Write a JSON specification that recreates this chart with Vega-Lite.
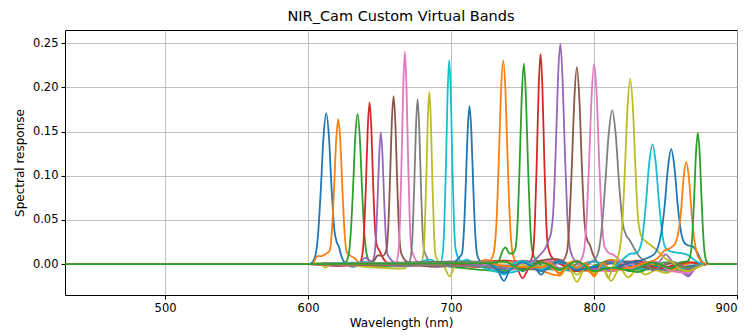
{
"$schema": "https://vega.github.io/schema/vega-lite/v6.json",
"width": 672, "height": 265,
"autosize": {"type": "none"},
"padding": {"left": 65, "top": 30, "right": 15, "bottom": 41},
"background": "white",
"title": {"text": "NIR_Cam Custom Virtual Bands", "font": "DejaVu Sans", "fontSize": 14.5, "fontWeight": "normal", "color": "black", "offset": 6, "anchor": "middle"},
"config": {
  "view": {"stroke": "black", "strokeWidth": 1},
  "axis": {"domain": false, "tickColor": "black", "tickSize": 4, "labelFont": "DejaVu Sans", "labelFontSize": 11.5, "labelColor": "black", "labelPadding": 3, "titleFont": "DejaVu Sans", "titleFontSize": 12, "titleFontWeight": "normal", "titleColor": "black", "gridColor": "#b0b0b0", "gridWidth": 0.8, "gridOpacity": 1}
},
"data": {"values": [
{"b":"01","x":430,"y":0},{"b":"01","x":600,"y":0},{"b":"01","x":602.2,"y":0.001},{"b":"01","x":605.2,"y":0.010},{"b":"01","x":607.1,"y":0.036},{"b":"01","x":608.95,"y":0.0855},{"b":"01","x":610.8,"y":0.144},{"b":"01","x":612.7,"y":0.171},{"b":"01","x":614.6,"y":0.144},{"b":"01","x":616.45,"y":0.0855},{"b":"01","x":618.3,"y":0.04},{"b":"01","x":620,"y":0.025},{"b":"01","x":621.5,"y":0.02},{"b":"01","x":623.5,"y":0.008},{"b":"01","x":626,"y":0.001},{"b":"01","x":632,"y":-0.003},{"b":"01","x":640,"y":0.002},{"b":"01","x":660,"y":-0.002},{"b":"01","x":700,"y":0.001},{"b":"01","x":737,"y":-0.006},{"b":"01","x":744,"y":0.001},{"b":"01","x":750,"y":-0.008},{"b":"01","x":756,"y":-0.001},{"b":"01","x":763,"y":-0.006},{"b":"01","x":770,"y":0.001},{"b":"01","x":776,"y":-0.005},{"b":"01","x":788,"y":-0.006},{"b":"01","x":800,"y":-0.004},{"b":"01","x":812,"y":-0.007},{"b":"01","x":825,"y":-0.002},{"b":"01","x":840,"y":0.002},{"b":"01","x":854,"y":-0.004},{"b":"01","x":870,"y":-0.002},{"b":"01","x":879,"y":0},{"b":"01","x":900,"y":0},

{"b":"02","x":430,"y":0},{"b":"02","x":600,"y":0},{"b":"02","x":603,"y":0},{"b":"02","x":605.5,"y":0.007},{"b":"02","x":607,"y":0.009},{"b":"02","x":609.5,"y":0.009},{"b":"02","x":612,"y":0.011},{"b":"02","x":615.1,"y":0.015},{"b":"02","x":616.6,"y":0.036},{"b":"02","x":618.1,"y":0.082},{"b":"02","x":619.6,"y":0.138},{"b":"02","x":621.1,"y":0.164},{"b":"02","x":622.6,"y":0.138},{"b":"02","x":624.1,"y":0.082},{"b":"02","x":625.6,"y":0.034},{"b":"02","x":627.1,"y":0.013},{"b":"02","x":630,"y":0.009},{"b":"02","x":633,"y":0.006},{"b":"02","x":636,"y":0.001},{"b":"02","x":645,"y":-0.003},{"b":"02","x":660,"y":0.002},{"b":"02","x":700,"y":-0.002},{"b":"02","x":737,"y":0.004},{"b":"02","x":750,"y":-0.004},{"b":"02","x":760,"y":-0.006},{"b":"02","x":776,"y":-0.013},{"b":"02","x":782,"y":-0.002},{"b":"02","x":790,"y":-0.004},{"b":"02","x":800,"y":-0.01},{"b":"02","x":806,"y":-0.002},{"b":"02","x":820,"y":0.003},{"b":"02","x":850,"y":-0.003},{"b":"02","x":866,"y":-0.006},{"b":"02","x":879,"y":0},{"b":"02","x":900,"y":0},

{"b":"03","x":430,"y":0},{"b":"03","x":600,"y":0},{"b":"03","x":612,"y":0.001},{"b":"03","x":620,"y":-0.002},{"b":"03","x":625.8,"y":0.001},{"b":"03","x":628.3,"y":0.010},{"b":"03","x":629.9,"y":0.036},{"b":"03","x":631.45,"y":0.085},{"b":"03","x":633,"y":0.143},{"b":"03","x":634.6,"y":0.170},{"b":"03","x":636.2,"y":0.143},{"b":"03","x":637.75,"y":0.085},{"b":"03","x":639.3,"y":0.036},{"b":"03","x":640.9,"y":0.012},{"b":"03","x":643,"y":0.003},{"b":"03","x":650,"y":-0.003},{"b":"03","x":670,"y":0.002},{"b":"03","x":700,"y":-0.003},{"b":"03","x":737,"y":-0.008},{"b":"03","x":752,"y":0.004},{"b":"03","x":763,"y":-0.006},{"b":"03","x":780,"y":-0.006},{"b":"03","x":790,"y":0.001},{"b":"03","x":800,"y":-0.006},{"b":"03","x":810,"y":0.002},{"b":"03","x":825,"y":-0.008},{"b":"03","x":840,"y":-0.004},{"b":"03","x":854,"y":-0.006},{"b":"03","x":870,"y":-0.002},{"b":"03","x":879,"y":0},{"b":"03","x":900,"y":0},

{"b":"04","x":430,"y":0},{"b":"04","x":600,"y":0},{"b":"04","x":625,"y":-0.002},{"b":"04","x":636,"y":0.001},{"b":"04","x":638,"y":0.011},{"b":"04","x":639.25,"y":0.038},{"b":"04","x":640.5,"y":0.0915},{"b":"04","x":641.75,"y":0.154},{"b":"04","x":643,"y":0.183},{"b":"04","x":644.25,"y":0.154},{"b":"04","x":645.5,"y":0.0915},{"b":"04","x":646.75,"y":0.042},{"b":"04","x":648,"y":0.022},{"b":"04","x":650,"y":0.015},{"b":"04","x":652,"y":0.008},{"b":"04","x":655,"y":0.002},{"b":"04","x":665,"y":-0.002},{"b":"04","x":690,"y":0.002},{"b":"04","x":715,"y":-0.003},{"b":"04","x":745,"y":-0.002},{"b":"04","x":750,"y":-0.016},{"b":"04","x":755,"y":-0.002},{"b":"04","x":763,"y":0.004},{"b":"04","x":776,"y":-0.006},{"b":"04","x":790,"y":-0.008},{"b":"04","x":800,"y":-0.005},{"b":"04","x":815,"y":0.003},{"b":"04","x":825,"y":-0.006},{"b":"04","x":845,"y":-0.005},{"b":"04","x":866,"y":-0.008},{"b":"04","x":872,"y":-0.003},{"b":"04","x":879,"y":0},{"b":"04","x":900,"y":0},

{"b":"05","x":430,"y":0},{"b":"05","x":600,"y":0},{"b":"05","x":620,"y":0.001},{"b":"05","x":636,"y":0.001},{"b":"05","x":640,"y":0.007},{"b":"05","x":642,"y":0.005},{"b":"05","x":644.6,"y":0.003},{"b":"05","x":646.4,"y":0.01},{"b":"05","x":647.5,"y":0.031},{"b":"05","x":648.65,"y":0.0745},{"b":"05","x":649.8,"y":0.125},{"b":"05","x":650.9,"y":0.149},{"b":"05","x":652,"y":0.125},{"b":"05","x":653.15,"y":0.0745},{"b":"05","x":654.3,"y":0.033},{"b":"05","x":655.4,"y":0.012},{"b":"05","x":657.5,"y":0.006},{"b":"05","x":660,"y":0.002},{"b":"05","x":670,"y":-0.002},{"b":"05","x":700,"y":0.002},{"b":"05","x":737,"y":-0.004},{"b":"05","x":750,"y":-0.005},{"b":"05","x":770,"y":0.003},{"b":"05","x":788,"y":-0.007},{"b":"05","x":800,"y":-0.005},{"b":"05","x":812,"y":-0.006},{"b":"05","x":830,"y":0.002},{"b":"05","x":841,"y":-0.005},{"b":"05","x":860,"y":-0.003},{"b":"05","x":866,"y":-0.012},{"b":"05","x":872,"y":-0.003},{"b":"05","x":879,"y":0},{"b":"05","x":900,"y":0},

{"b":"06","x":430,"y":0},{"b":"06","x":600,"y":0},{"b":"06","x":620,"y":-0.002},{"b":"06","x":640,"y":0.002},{"b":"06","x":645,"y":0.002},{"b":"06","x":649,"y":0.01},{"b":"06","x":652,"y":0.009},{"b":"06","x":654.8,"y":0.016},{"b":"06","x":656.05,"y":0.04},{"b":"06","x":657.3,"y":0.095},{"b":"06","x":658.55,"y":0.16},{"b":"06","x":659.8,"y":0.190},{"b":"06","x":661.05,"y":0.16},{"b":"06","x":662.3,"y":0.095},{"b":"06","x":663.55,"y":0.04},{"b":"06","x":664.8,"y":0.015},{"b":"06","x":667,"y":0.006},{"b":"06","x":670,"y":0.002},{"b":"06","x":690,"y":-0.003},{"b":"06","x":720,"y":0.002},{"b":"06","x":745,"y":-0.006},{"b":"06","x":763,"y":-0.006},{"b":"06","x":775,"y":0.003},{"b":"06","x":788,"y":-0.004},{"b":"06","x":800,"y":-0.005},{"b":"06","x":812,"y":-0.008},{"b":"06","x":830,"y":-0.003},{"b":"06","x":854,"y":-0.006},{"b":"06","x":866,"y":0.002},{"b":"06","x":879,"y":0},{"b":"06","x":900,"y":0},

{"b":"07","x":430,"y":0},{"b":"07","x":600,"y":0},{"b":"07","x":640,"y":-0.002},{"b":"07","x":655,"y":0.002},{"b":"07","x":661.4,"y":0.001},{"b":"07","x":663.2,"y":0.014},{"b":"07","x":664.3,"y":0.05},{"b":"07","x":665.45,"y":0.12},{"b":"07","x":666.6,"y":0.202},{"b":"07","x":667.7,"y":0.2405},{"b":"07","x":668.8,"y":0.202},{"b":"07","x":669.95,"y":0.12},{"b":"07","x":671.1,"y":0.052},{"b":"07","x":672.2,"y":0.018},{"b":"07","x":674,"y":0.009},{"b":"07","x":676,"y":0.003},{"b":"07","x":690,"y":-0.002},{"b":"07","x":710,"y":0.003},{"b":"07","x":740,"y":-0.005},{"b":"07","x":750,"y":-0.006},{"b":"07","x":770,"y":0.004},{"b":"07","x":776,"y":-0.006},{"b":"07","x":790,"y":-0.004},{"b":"07","x":800,"y":-0.008},{"b":"07","x":825,"y":-0.006},{"b":"07","x":830,"y":0.003},{"b":"07","x":841,"y":-0.004},{"b":"07","x":860,"y":-0.005},{"b":"07","x":879,"y":0},{"b":"07","x":900,"y":0},

{"b":"08","x":430,"y":0},{"b":"08","x":600,"y":0},{"b":"08","x":620,"y":0.001},{"b":"08","x":650,"y":-0.002},{"b":"08","x":670.3,"y":0.001},{"b":"08","x":672.1,"y":0.011},{"b":"08","x":673.2,"y":0.039},{"b":"08","x":674.35,"y":0.0935},{"b":"08","x":675.5,"y":0.157},{"b":"08","x":676.6,"y":0.187},{"b":"08","x":677.7,"y":0.157},{"b":"08","x":678.85,"y":0.0935},{"b":"08","x":680,"y":0.04},{"b":"08","x":681.1,"y":0.016},{"b":"08","x":683,"y":0.008},{"b":"08","x":685,"y":0.002},{"b":"08","x":700,"y":0.003},{"b":"08","x":720,"y":-0.003},{"b":"08","x":737,"y":-0.005},{"b":"08","x":750,"y":0.004},{"b":"08","x":763,"y":-0.005},{"b":"08","x":780,"y":-0.005},{"b":"08","x":800,"y":-0.006},{"b":"08","x":810,"y":0.002},{"b":"08","x":825,"y":-0.005},{"b":"08","x":840,"y":-0.006},{"b":"08","x":854,"y":-0.008},{"b":"08","x":870,"y":-0.002},{"b":"08","x":879,"y":0},{"b":"08","x":900,"y":0},

{"b":"09","x":430,"y":0},{"b":"09","x":600,"y":0},{"b":"09","x":608,"y":0.001},{"b":"09","x":612,"y":-0.004},{"b":"09","x":616,"y":0.001},{"b":"09","x":640,"y":-0.003},{"b":"09","x":667,"y":-0.005},{"b":"09","x":672,"y":0.001},{"b":"09","x":678.9,"y":0.001},{"b":"09","x":680.6,"y":0.012},{"b":"09","x":681.65,"y":0.041},{"b":"09","x":682.7,"y":0.0975},{"b":"09","x":683.75,"y":0.164},{"b":"09","x":684.8,"y":0.195},{"b":"09","x":685.85,"y":0.164},{"b":"09","x":686.9,"y":0.0975},{"b":"09","x":687.95,"y":0.041},{"b":"09","x":689,"y":0.012},{"b":"09","x":691,"y":0.003},{"b":"09","x":695,"y":-0.002},{"b":"09","x":699,"y":-0.014},{"b":"09","x":703,"y":-0.002},{"b":"09","x":720,"y":0.002},{"b":"09","x":737,"y":-0.003},{"b":"09","x":745,"y":-0.004},{"b":"09","x":763,"y":-0.002},{"b":"09","x":776,"y":-0.006},{"b":"09","x":782,"y":-0.002},{"b":"09","x":788,"y":-0.012},{"b":"09","x":794,"y":-0.003},{"b":"09","x":800,"y":-0.008},{"b":"09","x":806,"y":-0.004},{"b":"09","x":812,"y":-0.019},{"b":"09","x":818,"y":-0.005},{"b":"09","x":824,"y":-0.015},{"b":"09","x":830,"y":-0.006},{"b":"09","x":836,"y":-0.012},{"b":"09","x":843,"y":-0.007},{"b":"09","x":850,"y":-0.01},{"b":"09","x":858,"y":-0.006},{"b":"09","x":866,"y":-0.009},{"b":"09","x":872,"y":-0.004},{"b":"09","x":879,"y":0},{"b":"09","x":900,"y":0},

{"b":"10","x":430,"y":0},{"b":"10","x":600,"y":0},{"b":"10","x":640,"y":0.002},{"b":"10","x":670,"y":-0.002},{"b":"10","x":685,"y":0.005},{"b":"10","x":692.5,"y":0.001},{"b":"10","x":694.3,"y":0.014},{"b":"10","x":695.4,"y":0.049},{"b":"10","x":696.5,"y":0.1155},{"b":"10","x":697.6,"y":0.194},{"b":"10","x":698.7,"y":0.231},{"b":"10","x":699.8,"y":0.194},{"b":"10","x":700.9,"y":0.1155},{"b":"10","x":702,"y":0.05},{"b":"10","x":703.1,"y":0.018},{"b":"10","x":705,"y":0.007},{"b":"10","x":707,"y":0.003},{"b":"10","x":711,"y":0.005},{"b":"10","x":716,"y":0.001},{"b":"10","x":737,"y":-0.01},{"b":"10","x":750,"y":-0.006},{"b":"10","x":760,"y":0.003},{"b":"10","x":776,"y":-0.007},{"b":"10","x":790,"y":-0.006},{"b":"10","x":800,"y":-0.003},{"b":"10","x":815,"y":0.004},{"b":"10","x":825,"y":-0.006},{"b":"10","x":850,"y":-0.005},{"b":"10","x":866,"y":-0.005},{"b":"10","x":874,"y":0.002},{"b":"10","x":879,"y":0},{"b":"10","x":900,"y":0},

{"b":"11","x":430,"y":0},{"b":"11","x":600,"y":0},{"b":"11","x":660,"y":0.001},{"b":"11","x":690,"y":-0.002},{"b":"11","x":703,"y":0.003},{"b":"11","x":706,"y":0.008},{"b":"11","x":707.7,"y":0.012},{"b":"11","x":709,"y":0.038},{"b":"11","x":710.3,"y":0.0895},{"b":"11","x":711.6,"y":0.15},{"b":"11","x":712.9,"y":0.179},{"b":"11","x":714.2,"y":0.15},{"b":"11","x":715.5,"y":0.0895},{"b":"11","x":716.8,"y":0.038},{"b":"11","x":718.1,"y":0.012},{"b":"11","x":720,"y":0.004},{"b":"11","x":723,"y":0.001},{"b":"11","x":730,"y":0},{"b":"11","x":733,"y":-0.008},{"b":"11","x":737,"y":-0.019},{"b":"11","x":741,"y":-0.006},{"b":"11","x":745,"y":0.003},{"b":"11","x":758,"y":-0.003},{"b":"11","x":763,"y":-0.012},{"b":"11","x":768,"y":-0.002},{"b":"11","x":776,"y":0.002},{"b":"11","x":790,"y":-0.006},{"b":"11","x":820,"y":0.003},{"b":"11","x":850,"y":-0.004},{"b":"11","x":870,"y":-0.002},{"b":"11","x":879,"y":0},{"b":"11","x":900,"y":0},

{"b":"12","x":430,"y":0},{"b":"12","x":600,"y":0},{"b":"12","x":680,"y":0.001},{"b":"12","x":700,"y":-0.002},{"b":"12","x":720,"y":0.002},{"b":"12","x":724,"y":0.005},{"b":"12","x":727,"y":0.004},{"b":"12","x":729,"y":0.008},{"b":"12","x":730.2,"y":0.016},{"b":"12","x":731.8,"y":0.048},{"b":"12","x":733.35,"y":0.115},{"b":"12","x":734.9,"y":0.194},{"b":"12","x":736.5,"y":0.2306},{"b":"12","x":738.1,"y":0.194},{"b":"12","x":739.65,"y":0.115},{"b":"12","x":741.2,"y":0.048},{"b":"12","x":742.8,"y":0.015},{"b":"12","x":745,"y":0.003},{"b":"12","x":750,"y":-0.005},{"b":"12","x":763,"y":0.003},{"b":"12","x":770,"y":-0.003},{"b":"12","x":776,"y":-0.01},{"b":"12","x":782,"y":0.001},{"b":"12","x":788,"y":0.004},{"b":"12","x":794,"y":-0.003},{"b":"12","x":800,"y":-0.012},{"b":"12","x":806,"y":0.001},{"b":"12","x":812,"y":0.005},{"b":"12","x":825,"y":-0.004},{"b":"12","x":841,"y":0.003},{"b":"12","x":854,"y":-0.006},{"b":"12","x":870,"y":0.002},{"b":"12","x":879,"y":0},{"b":"12","x":900,"y":0},

{"b":"13","x":430,"y":0},{"b":"13","x":600,"y":0},{"b":"13","x":700,"y":0.002},{"b":"13","x":725,"y":-0.003},{"b":"13","x":733,"y":0.002},{"b":"13","x":736,"y":0.015},{"b":"13","x":738,"y":0.019},{"b":"13","x":741,"y":0.012},{"b":"13","x":743,"y":0.012},{"b":"13","x":745.1,"y":0.018},{"b":"13","x":746.55,"y":0.048},{"b":"13","x":748,"y":0.1135},{"b":"13","x":749.45,"y":0.19},{"b":"13","x":750.9,"y":0.227},{"b":"13","x":752.35,"y":0.19},{"b":"13","x":753.8,"y":0.1135},{"b":"13","x":755.25,"y":0.048},{"b":"13","x":756.7,"y":0.016},{"b":"13","x":758.5,"y":0.007},{"b":"13","x":761,"y":0.002},{"b":"13","x":766,"y":-0.005},{"b":"13","x":776,"y":0.004},{"b":"13","x":790,"y":-0.007},{"b":"13","x":810,"y":0.003},{"b":"13","x":830,"y":-0.009},{"b":"13","x":850,"y":0.002},{"b":"13","x":866,"y":-0.004},{"b":"13","x":879,"y":0},{"b":"13","x":900,"y":0},

{"b":"14","x":430,"y":0},{"b":"14","x":600,"y":0},{"b":"14","x":700,"y":-0.002},{"b":"14","x":737,"y":0.004},{"b":"14","x":745,"y":0.003},{"b":"14","x":752,"y":0.002},{"b":"14","x":755.3,"y":0.003},{"b":"14","x":757.4,"y":0.014},{"b":"14","x":758.7,"y":0.05},{"b":"14","x":760,"y":0.119},{"b":"14","x":761.3,"y":0.2},{"b":"14","x":762.6,"y":0.238},{"b":"14","x":763.9,"y":0.2},{"b":"14","x":765.2,"y":0.119},{"b":"14","x":766.5,"y":0.052},{"b":"14","x":767.8,"y":0.02},{"b":"14","x":770,"y":0.009},{"b":"14","x":773,"y":0.004},{"b":"14","x":776,"y":0.001},{"b":"14","x":788,"y":-0.008},{"b":"14","x":800,"y":0.003},{"b":"14","x":812,"y":-0.006},{"b":"14","x":830,"y":0.004},{"b":"14","x":845,"y":-0.005},{"b":"14","x":866,"y":0.002},{"b":"14","x":879,"y":0},{"b":"14","x":900,"y":0},

{"b":"15","x":430,"y":0},{"b":"15","x":600,"y":0},{"b":"15","x":700,"y":0.002},{"b":"15","x":737,"y":-0.004},{"b":"15","x":750,"y":0.002},{"b":"15","x":758,"y":0.004},{"b":"15","x":762,"y":0.01},{"b":"15","x":766,"y":0.018},{"b":"15","x":768.5,"y":0.028},{"b":"15","x":769.9,"y":0.035},{"b":"15","x":771.5,"y":0.06},{"b":"15","x":773.15,"y":0.125},{"b":"15","x":774.8,"y":0.21},{"b":"15","x":776.4,"y":0.2494},{"b":"15","x":778,"y":0.21},{"b":"15","x":779.65,"y":0.125},{"b":"15","x":781.3,"y":0.055},{"b":"15","x":782.9,"y":0.02},{"b":"15","x":785,"y":0.008},{"b":"15","x":788,"y":0.002},{"b":"15","x":800,"y":-0.006},{"b":"15","x":812,"y":0.003},{"b":"15","x":825,"y":-0.004},{"b":"15","x":841,"y":0.002},{"b":"15","x":845,"y":0.002},{"b":"15","x":850,"y":0.011},{"b":"15","x":855,"y":0.002},{"b":"15","x":861,"y":-0.008},{"b":"15","x":866,"y":-0.014},{"b":"15","x":871,"y":-0.004},{"b":"15","x":879,"y":0},{"b":"15","x":900,"y":0},

{"b":"16","x":430,"y":0},{"b":"16","x":600,"y":0},{"b":"16","x":737,"y":0.003},{"b":"16","x":750,"y":-0.005},{"b":"16","x":763,"y":0.004},{"b":"16","x":772,"y":0.006},{"b":"16","x":776,"y":0.005},{"b":"16","x":778,"y":0.004},{"b":"16","x":781,"y":0.013},{"b":"16","x":782.75,"y":0.047},{"b":"16","x":784.5,"y":0.1115},{"b":"16","x":786.25,"y":0.187},{"b":"16","x":788,"y":0.223},{"b":"16","x":789.75,"y":0.187},{"b":"16","x":791.5,"y":0.1115},{"b":"16","x":793.25,"y":0.05},{"b":"16","x":795,"y":0.028},{"b":"16","x":797,"y":0.022},{"b":"16","x":799.5,"y":0.01},{"b":"16","x":802,"y":0.003},{"b":"16","x":812,"y":-0.005},{"b":"16","x":825,"y":0.003},{"b":"16","x":841,"y":-0.006},{"b":"16","x":856,"y":0.002},{"b":"16","x":866,"y":-0.006},{"b":"16","x":879,"y":0},{"b":"16","x":900,"y":0},

{"b":"17","x":430,"y":0},{"b":"17","x":600,"y":0},{"b":"17","x":750,"y":0.002},{"b":"17","x":763,"y":-0.004},{"b":"17","x":776,"y":0.003},{"b":"17","x":786,"y":-0.006},{"b":"17","x":790,"y":0.002},{"b":"17","x":792.9,"y":0.014},{"b":"17","x":794.7,"y":0.048},{"b":"17","x":796.5,"y":0.113},{"b":"17","x":798.3,"y":0.19},{"b":"17","x":800.1,"y":0.2266},{"b":"17","x":801.9,"y":0.19},{"b":"17","x":803.7,"y":0.113},{"b":"17","x":805.5,"y":0.05},{"b":"17","x":807.3,"y":0.02},{"b":"17","x":810,"y":0.013},{"b":"17","x":814,"y":0.01},{"b":"17","x":818,"y":0.004},{"b":"17","x":825,"y":-0.005},{"b":"17","x":841,"y":0.003},{"b":"17","x":854,"y":-0.008},{"b":"17","x":866,"y":-0.01},{"b":"17","x":872,"y":-0.003},{"b":"17","x":879,"y":0},{"b":"17","x":900,"y":0},

{"b":"18","x":430,"y":0},{"b":"18","x":600,"y":0},{"b":"18","x":763,"y":-0.003},{"b":"18","x":776,"y":0.004},{"b":"18","x":788,"y":-0.005},{"b":"18","x":795,"y":0.002},{"b":"18","x":798.7,"y":0.003},{"b":"18","x":802.7,"y":0.012},{"b":"18","x":805.2,"y":0.037},{"b":"18","x":807.7,"y":0.087},{"b":"18","x":810.2,"y":0.146},{"b":"18","x":812.7,"y":0.174},{"b":"18","x":815.2,"y":0.146},{"b":"18","x":817.7,"y":0.087},{"b":"18","x":820.2,"y":0.045},{"b":"18","x":822.7,"y":0.032},{"b":"18","x":825,"y":0.027},{"b":"18","x":828,"y":0.018},{"b":"18","x":832,"y":0.008},{"b":"18","x":836,"y":0.003},{"b":"18","x":841,"y":-0.007},{"b":"18","x":854,"y":0.003},{"b":"18","x":866,"y":-0.005},{"b":"18","x":872,"y":-0.002},{"b":"18","x":879,"y":0},{"b":"18","x":900,"y":0},

{"b":"19","x":430,"y":0},{"b":"19","x":600,"y":0},{"b":"19","x":740,"y":0.002},{"b":"19","x":760,"y":-0.004},{"b":"19","x":770,"y":0.001},{"b":"19","x":776,"y":-0.012},{"b":"19","x":782,"y":-0.003},{"b":"19","x":788,"y":-0.02},{"b":"19","x":794,"y":-0.004},{"b":"19","x":800,"y":-0.01},{"b":"19","x":806,"y":-0.003},{"b":"19","x":810,"y":-0.016},{"b":"19","x":813,"y":-0.004},{"b":"19","x":815.5,"y":0.004},{"b":"19","x":817.8,"y":0.015},{"b":"19","x":819.7,"y":0.044},{"b":"19","x":821.55,"y":0.105},{"b":"19","x":823.4,"y":0.176},{"b":"19","x":825.3,"y":0.210},{"b":"19","x":827.2,"y":0.176},{"b":"19","x":829.05,"y":0.105},{"b":"19","x":830.9,"y":0.05},{"b":"19","x":833,"y":0.032},{"b":"19","x":836,"y":0.026},{"b":"19","x":840,"y":0.021},{"b":"19","x":845,"y":0.014},{"b":"19","x":850,"y":0.006},{"b":"19","x":855,"y":0.002},{"b":"19","x":860,"y":-0.006},{"b":"19","x":866,"y":-0.008},{"b":"19","x":872,"y":-0.004},{"b":"19","x":879,"y":0},{"b":"19","x":900,"y":0},

{"b":"20","x":430,"y":0},{"b":"20","x":600,"y":0},{"b":"20","x":720,"y":0.002},{"b":"20","x":730,"y":-0.002},{"b":"20","x":737,"y":-0.012},{"b":"20","x":744,"y":0.001},{"b":"20","x":750,"y":0.003},{"b":"20","x":763,"y":-0.006},{"b":"20","x":776,"y":0.002},{"b":"20","x":788,"y":-0.004},{"b":"20","x":800,"y":0.003},{"b":"20","x":812,"y":-0.006},{"b":"20","x":818,"y":0.002},{"b":"20","x":822,"y":0.008},{"b":"20","x":826,"y":0.012},{"b":"20","x":829,"y":0.012},{"b":"20","x":831.6,"y":0.016},{"b":"20","x":833.9,"y":0.031},{"b":"20","x":836.25,"y":0.068},{"b":"20","x":838.6,"y":0.114},{"b":"20","x":840.9,"y":0.1354},{"b":"20","x":843.2,"y":0.114},{"b":"20","x":845.55,"y":0.068},{"b":"20","x":847.9,"y":0.032},{"b":"20","x":850.2,"y":0.018},{"b":"20","x":854,"y":0.014},{"b":"20","x":858,"y":0.013},{"b":"20","x":862,"y":0.012},{"b":"20","x":866,"y":0.01},{"b":"20","x":870,"y":0.005},{"b":"20","x":874,"y":0.001},{"b":"20","x":879,"y":0},{"b":"20","x":900,"y":0},

{"b":"21","x":430,"y":0},{"b":"21","x":600,"y":0},{"b":"21","x":725,"y":0.001},{"b":"21","x":737,"y":-0.01},{"b":"21","x":750,"y":0.002},{"b":"21","x":763,"y":-0.008},{"b":"21","x":776,"y":0.003},{"b":"21","x":788,"y":-0.007},{"b":"21","x":800,"y":-0.003},{"b":"21","x":812,"y":-0.006},{"b":"21","x":825,"y":0.002},{"b":"21","x":830,"y":0.003},{"b":"21","x":836,"y":0.006},{"b":"21","x":840,"y":0.009},{"b":"21","x":843,"y":0.013},{"b":"21","x":845.6,"y":0.024},{"b":"21","x":847,"y":0.035},{"b":"21","x":849.35,"y":0.065},{"b":"21","x":851.7,"y":0.109},{"b":"21","x":854,"y":0.130},{"b":"21","x":856.3,"y":0.109},{"b":"21","x":858.65,"y":0.065},{"b":"21","x":861,"y":0.035},{"b":"21","x":863.3,"y":0.024},{"b":"21","x":866,"y":0.021},{"b":"21","x":869,"y":0.02},{"b":"21","x":872,"y":0.014},{"b":"21","x":875,"y":0.004},{"b":"21","x":878,"y":0},{"b":"21","x":900,"y":0},

{"b":"22","x":430,"y":0},{"b":"22","x":600,"y":0},{"b":"22","x":725,"y":0.001},{"b":"22","x":737,"y":-0.002},{"b":"22","x":763,"y":-0.004},{"b":"22","x":770,"y":0.001},{"b":"22","x":776,"y":-0.012},{"b":"22","x":782,"y":0.001},{"b":"22","x":788,"y":-0.004},{"b":"22","x":794,"y":0.001},{"b":"22","x":800,"y":-0.014},{"b":"22","x":806,"y":0.001},{"b":"22","x":812,"y":-0.006},{"b":"22","x":825,"y":-0.004},{"b":"22","x":835,"y":0.001},{"b":"22","x":842,"y":0.004},{"b":"22","x":846,"y":0.009},{"b":"22","x":849,"y":0.015},{"b":"22","x":852,"y":0.017},{"b":"22","x":855,"y":0.02},{"b":"22","x":857,"y":0.024},{"b":"22","x":858.9,"y":0.035},{"b":"22","x":860.75,"y":0.058},{"b":"22","x":862.6,"y":0.097},{"b":"22","x":864.5,"y":0.1155},{"b":"22","x":866.4,"y":0.097},{"b":"22","x":868.25,"y":0.058},{"b":"22","x":870.1,"y":0.028},{"b":"22","x":872,"y":0.012},{"b":"22","x":874.5,"y":0.004},{"b":"22","x":877,"y":0.001},{"b":"22","x":879,"y":0},{"b":"22","x":900,"y":0},

{"b":"23","x":430,"y":0},{"b":"23","x":600,"y":0},{"b":"23","x":725,"y":0.001},{"b":"23","x":737,"y":0.003},{"b":"23","x":750,"y":-0.007},{"b":"23","x":763,"y":0.002},{"b":"23","x":776,"y":-0.006},{"b":"23","x":788,"y":0.003},{"b":"23","x":800,"y":-0.008},{"b":"23","x":812,"y":-0.004},{"b":"23","x":825,"y":-0.007},{"b":"23","x":841,"y":0.002},{"b":"23","x":854,"y":-0.005},{"b":"23","x":860,"y":0.002},{"b":"23","x":865.3,"y":0.003},{"b":"23","x":867.4,"y":0.01},{"b":"23","x":868.7,"y":0.031},{"b":"23","x":870,"y":0.074},{"b":"23","x":871.3,"y":0.125},{"b":"23","x":872.6,"y":0.1485},{"b":"23","x":873.9,"y":0.125},{"b":"23","x":875.2,"y":0.074},{"b":"23","x":876.5,"y":0.03},{"b":"23","x":877.8,"y":0.008},{"b":"23","x":879.5,"y":0.001},{"b":"23","x":881,"y":0},{"b":"23","x":900,"y":0}
]},
"mark": {"type": "line", "interpolate": "monotone", "strokeWidth": 1.8, "clip": true},
"encoding": {
  "x": {"field": "x", "type": "quantitative", "scale": {"domain": [430, 900], "nice": false, "zero": false}, "axis": {"title": "Wavelength (nm)", "values": [500, 600, 700, 800, 900], "titlePadding": 4}},
  "y": {"field": "y", "type": "quantitative", "scale": {"domain": [-0.035, 0.265], "nice": false, "zero": false}, "axis": {"title": "Spectral response", "values": [0, 0.05, 0.1, 0.15, 0.2, 0.25], "format": ".2f", "titlePadding": 6}},
  "color": {"field": "b", "type": "nominal", "legend": null, "scale": {"domain": ["01","02","03","04","05","06","07","08","09","10","11","12","13","14","15","16","17","18","19","20","21","22","23"], "range": ["#1f77b4","#ff7f0e","#2ca02c","#d62728","#9467bd","#8c564b","#e377c2","#7f7f7f","#bcbd22","#17becf","#1f77b4","#ff7f0e","#2ca02c","#d62728","#9467bd","#8c564b","#e377c2","#7f7f7f","#bcbd22","#17becf","#1f77b4","#ff7f0e","#2ca02c"]}}
}
}
